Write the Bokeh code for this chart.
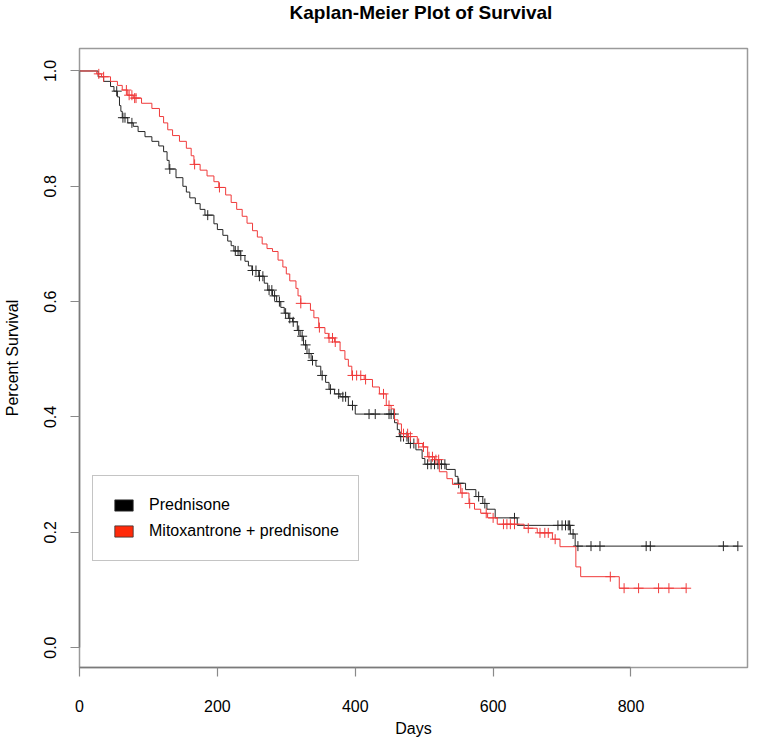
from bokeh.plotting import figure
from bokeh.models import Range1d, FixedTicker, Legend, LegendItem, ColumnDataSource, Title
from bokeh.embed import file_html
from bokeh.resources import INLINE
import numpy as np

# ---------------- data ----------------
pred_times = [0, 27, 35, 45, 50, 55, 58, 60, 62, 70,
              78, 85, 95, 105, 115, 122, 127, 130, 140, 150,
              155, 160, 168, 175, 182, 195, 200, 208, 215, 220,
              224, 233, 240, 245, 250, 260, 268, 273, 280, 286,
              292, 297, 303, 309, 316, 320, 325, 330, 336, 343,
              350, 357, 362, 370, 378, 390, 400, 457, 461, 464,
              477, 488, 497, 501, 532, 545, 549, 560, 575, 585,
              591, 603, 635, 712, 719]
pred_surv = [1.0, 0.99, 0.982, 0.973, 0.965, 0.955, 0.94, 0.93, 0.919, 0.91,
             0.904, 0.895, 0.886, 0.878, 0.87, 0.86, 0.845, 0.83, 0.815, 0.80,
             0.79, 0.78, 0.77, 0.76, 0.75, 0.735, 0.725, 0.715, 0.705, 0.697,
             0.688, 0.68, 0.67, 0.662, 0.654, 0.644, 0.632, 0.62, 0.61, 0.60,
             0.59, 0.58, 0.571, 0.565, 0.55, 0.54, 0.525, 0.51, 0.498, 0.488,
             0.472, 0.46, 0.448, 0.44, 0.435, 0.42, 0.405, 0.39, 0.378, 0.366,
             0.354, 0.343, 0.328, 0.318, 0.309, 0.297, 0.285, 0.274, 0.262, 0.25,
             0.24, 0.225, 0.212, 0.197, 0.176]
pred_censor = [54, 63, 66, 76, 131, 186, 226, 230, 234, 251,
               256, 261, 266, 275, 279, 283, 290, 299, 305, 310,
               318, 323, 328, 333, 338, 352, 364, 376, 382, 386,
               396, 420, 429, 449, 452, 456, 466, 470, 475, 480,
               485, 505, 510, 515, 520, 525, 530, 550, 579, 588,
               631, 694, 700, 705, 709, 711, 716, 723, 742, 755,
               822, 828, 934, 955]

mito_times = [0, 25, 32, 45, 55, 62, 70, 78, 90, 105,
              116, 122, 128, 135, 145, 155, 162, 166, 175, 185,
              195, 202, 212, 220, 228, 236, 243, 251, 258, 265,
              272, 280, 288, 295, 300, 305, 314, 317, 321, 335,
              340, 347, 356, 361, 370, 378, 385, 390, 395, 413,
              425, 435, 445, 452, 457, 462, 467, 477, 490, 498,
              505, 515, 522, 533, 541, 553, 565, 573, 582, 592,
              606, 645, 664, 686, 697, 720, 727, 783]
mito_surv = [1.0, 0.995, 0.99, 0.982, 0.975, 0.967, 0.958, 0.953, 0.944, 0.935,
             0.921, 0.91, 0.898, 0.888, 0.878, 0.866, 0.853, 0.838, 0.828, 0.818,
             0.808, 0.798, 0.785, 0.772, 0.76, 0.748, 0.736, 0.723, 0.712, 0.70,
             0.692, 0.687, 0.672, 0.66, 0.648, 0.636, 0.623, 0.61, 0.597, 0.585,
             0.572, 0.555, 0.545, 0.537, 0.53, 0.515, 0.5, 0.488, 0.472, 0.465,
             0.452, 0.44, 0.42, 0.414, 0.395, 0.388, 0.371, 0.366, 0.354, 0.348,
             0.331, 0.326, 0.305, 0.293, 0.283, 0.268, 0.25, 0.24, 0.233, 0.225,
             0.214, 0.207, 0.199, 0.188, 0.175, 0.14, 0.123, 0.103]
mito_censor = [28, 35, 68, 72, 76, 80, 82, 167, 203, 321,
               348, 362, 367, 371, 396, 402, 408, 415, 441, 449,
               470, 476, 480, 492, 499, 507, 512, 517, 521, 555,
               566, 590, 600, 615, 620, 625, 631, 651, 668, 675,
               680, 690, 770, 790, 811, 840, 855, 880]

series_names = ["Prednisone", "Mitoxantrone + prednisone"]
x_ticks = [0, 200, 400, 600, 800]
x_labels = ["0", "200", "400", "600", "800"]
y_ticks = [0.0, 0.2, 0.4, 0.6, 0.8, 1.0]
y_labels = ["0.0", "0.2", "0.4", "0.6", "0.8", "1.0"]
title_text = "Kaplan-Meier Plot of Survival"
x_title = "Days"
y_title = "Percent Survival"

# ---------------- figure ----------------
W, H = 749, 739
FONT = "Liberation Sans"
p = figure(width=W, height=H, output_backend="svg", toolbar_location=None,
           x_range=Range1d(0, 969), y_range=Range1d(-0.0345, 1.039),
           min_border_left=76, min_border_right=2, min_border_top=48,
           min_border_bottom=69, background_fill_color="white",
           border_fill_color="white")
p.grid.visible = False
p.outline_line_color = "#9a9a9a"
p.outline_line_width = 1.5

# spacer between frame and title (inner "above" panel), then the real title (outer)
p.add_layout(Title(text=" ", text_font_size="1px", standoff=23), "above")
p.title = Title(text=title_text, text_font=FONT, text_font_size="19px",
                text_font_style="bold", text_color="black", align="left",
                offset=210, standoff=-1.5)

for ax in (p.xaxis[0], p.yaxis[0]):
    ax.major_tick_in = 0
    ax.major_tick_out = 9
    ax.minor_tick_line_color = None
    ax.axis_line_color = "#7a7a7a"
    ax.axis_line_width = 1.5
    ax.major_tick_line_color = "#8a8a8a"
    ax.major_tick_line_width = 1.2
    ax.major_label_text_font = FONT
    ax.major_label_text_font_size = "16px"
    ax.major_label_text_color = "black"
    ax.axis_label_text_font = FONT
    ax.axis_label_text_font_size = "16px"
    ax.axis_label_text_font_style = "normal"
    ax.axis_label_text_color = "black"

p.xaxis.ticker = FixedTicker(ticks=x_ticks)
p.xaxis.major_label_overrides = dict(zip(x_ticks, x_labels))
p.xaxis.bounds = (x_ticks[0], x_ticks[-1])
p.xaxis.major_label_standoff = 23
p.xaxis.axis_label = x_title
p.xaxis.axis_label_standoff = 5

p.yaxis.ticker = FixedTicker(ticks=y_ticks)
p.yaxis.major_label_overrides = dict(zip(y_ticks, y_labels))
p.yaxis.bounds = (y_ticks[0], y_ticks[-1])
p.yaxis.major_label_orientation = "vertical"
p.yaxis.major_label_standoff = 14
p.yaxis.axis_label = y_title
p.yaxis.axis_label_standoff = 21


def step_at(times, surv, t):
    idx = np.searchsorted(np.asarray(times), np.asarray(t), side="right") - 1
    return list(np.asarray(surv)[idx])


line_colors = ["#262626", "#f03a3a"]
swatch_colors = ["#000000", "#ff2a0a"]
groups = [(pred_times, pred_surv, pred_censor), (mito_times, mito_surv, mito_censor)]

legend_items = []
nan = float("nan")
for (times, surv, cens), lc, sc, name in zip(groups, line_colors, swatch_colors, series_names):
    end = max(cens[-1], times[-1])
    xs = list(times) + [end]
    ys = list(surv) + [surv[-1]]
    p.step(x=xs, y=ys, mode="after", line_color=lc, line_width=1)
    p.scatter(x=cens, y=step_at(times, surv, cens), marker="cross", size=10,
              line_color=lc, line_width=1)
    # legend proxy (no visible geometry)
    proxy = p.quad(source=ColumnDataSource(dict(left=[nan], right=[nan], top=[nan], bottom=[nan])),
                   left="left", right="right", top="top", bottom="bottom",
                   fill_color=sc, line_color="#333333", line_width=0.8)
    legend_items.append(LegendItem(label=name, renderers=[proxy]))

legend = Legend(items=legend_items, location=(13, 106), orientation="vertical",
                padding=19, spacing=6, margin=0, label_standoff=14,
                glyph_width=23, glyph_height=14, label_height=20, label_width=186,
                label_text_font=FONT, label_text_font_size="16px",
                label_text_color="black", border_line_color="#8a8a8a",
                border_line_width=1, background_fill_color="white",
                background_fill_alpha=1.0)
p.add_layout(legend)

open("out.html", "w").write(file_html(p, INLINE))
